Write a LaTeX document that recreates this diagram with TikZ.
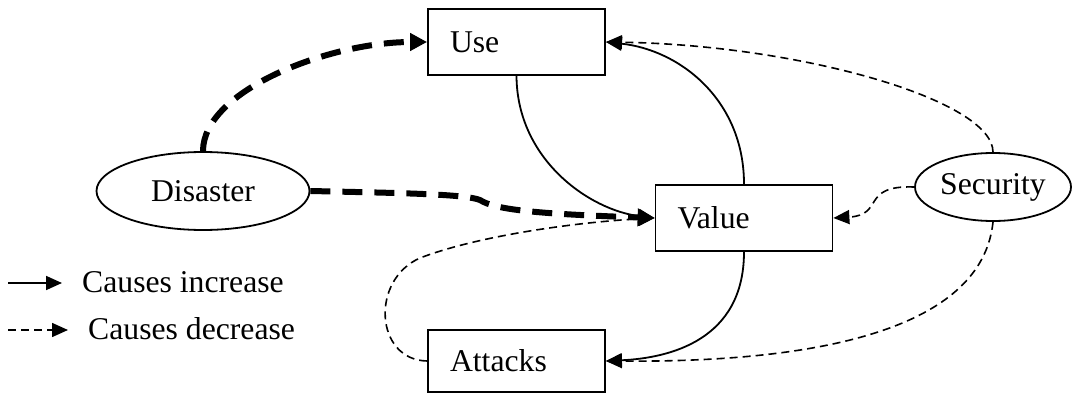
\documentclass[tikz,border=0pt]{standalone}
\usepackage{fontspec}
\setmainfont{Liberation Serif}
\usetikzlibrary{arrows.meta,shapes.geometric}
\begin{document}
\begin{tikzpicture}[x=1pt,y=-1pt,
 every node/.style={font=\fontsize{31.7}{38}\selectfont},
 box/.style={draw, line width=1.8pt, minimum height=66pt, text width=133pt, inner xsep=22pt, inner ysep=0pt, align=left},
 oval/.style={draw, ellipse, line width=1.8pt, inner sep=0pt},
 tip/.style={-{Triangle[length=16pt,width=14pt]}},
 inc/.style={tip, line width=1.8pt},
 dec/.style={tip, line width=1.6pt, dash pattern=on 8pt off 5pt},
 thickdec/.style={-{Triangle[length=17pt,width=17pt]}, line width=6pt, dash pattern=on 20pt off 12pt}
]
\useasboundingbox (0,0) rectangle (1073,393);

\node[box] (U) at (516.5,42) {Use};
\node[box] (V) at (744,218) {Value};
\node[box, minimum height=62pt] (A) at (516.5,361) {Attacks};
\node[oval, minimum width=213pt, minimum height=78pt] (D) at (203,191) {Disaster};
\node[oval, minimum width=156pt, minimum height=68pt] (S) at (993,187) {Security};

% Disaster arrows
\draw[thickdec] (D.north) .. controls (203,90) and (330,42) .. (U.west);
\draw[thickdec] (D.east) .. controls (400,193) and (465,194) .. (480,200) .. controls (495,210) and (540,214) .. (V.west);

% Use <-> Value
\draw[inc] (U.south) .. controls (517,160) and (590,210) .. (V.west);
\draw[inc] (V.north) .. controls (744,100) and (680,50) .. (U.east);

% Security
\draw[dec] (S.north) .. controls (993,100) and (800,45) .. (U.east);
\draw[dec] (S.west) .. controls (860,185) and (885,215) .. (V.east);
\draw[dec] (S.south) .. controls (980,350) and (750,362) .. (A.east);

% Value -> Attacks
\draw[inc] (V.south) .. controls (744,340) and (670,358) .. (A.east);

% Attacks -> Value
\draw[dec] (A.west) .. controls (375,360) and (370,280) .. (420,258) .. controls (480,235) and (580,222) .. (V.west);

% Legend
\coordinate (i0) at (8,283);
\coordinate (i1) at (62,283);
\coordinate (d0) at (8,330);
\coordinate (d1) at (68,330);
\draw[inc] (i0) -- (i1);
\draw[dec] (d0) -- (d1);
\node[anchor=base west, inner sep=0pt] (li) at (82,292) {Causes increase};
\node[anchor=base west, inner sep=0pt] (ld) at (88,339) {Causes decrease};
\end{tikzpicture}
\end{document}
